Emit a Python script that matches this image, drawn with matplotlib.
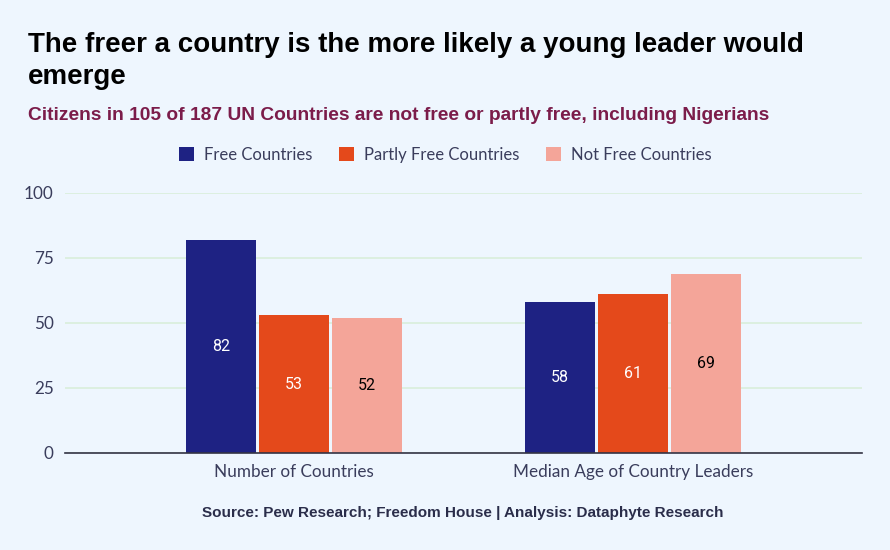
import matplotlib.pyplot as plt
import numpy as np

categories = ["Number of Countries", "Median Age of Country Leaders"]
series_names = ["Free Countries", "Partly Free Countries", "Not Free Countries"]
free = [82, 58]
partly_free = [53, 61]
not_free = [52, 69]

colors = ["#1e2283", "#e4491b", "#f4a599"]
label_colors = ["white", "white", "black"]
bg = "#eef6fe"

fig = plt.figure(figsize=(8.9, 5.5), dpi=100, facecolor=bg)
ax = fig.add_axes([0.073, 0.1764, 0.8955, 0.4727], facecolor=bg)

x = np.arange(len(categories))
width = 0.2065
step = 0.215
for i, (name, vals) in enumerate(zip(series_names, [free, partly_free, not_free])):
    bars = ax.bar(x + (i - 1) * step, vals, width, color=colors[i], label=name, zorder=3)
    for b, v in zip(bars, vals):
        ax.text(b.get_x() + b.get_width() / 2, v / 2, str(v), ha="center", va="center",
                color=label_colors[i], fontsize=11.5, family="Roboto", zorder=4)

ax.set_xlim(-0.675, 1.675)
ax.set_ylim(0, 100)
ax.set_yticks([0, 25, 50, 75, 100])
ax.set_xticks(x)
ax.set_xticklabels(categories)
ax.grid(axis="y", color="#d9eedb", linewidth=1.2, zorder=0)
for s in ["top", "right", "left"]:
    ax.spines[s].set_visible(False)
ax.spines["bottom"].set_color("#333344")
ax.spines["bottom"].set_linewidth(1.2)
ax.spines["bottom"].set_zorder(5)
ax.tick_params(axis="both", length=0, labelsize=12.3, labelcolor="#3a3d5c", pad=8)
for t in ax.get_xticklabels() + ax.get_yticklabels():
    t.set_family("Lato")
ax.tick_params(axis="y", pad=8)

fig.text(28 / 890, 1 - 60.5 / 550, "The freer a country is the more likely a young leader would\nemerge",
         ha="left", va="center", fontsize=20, fontweight="bold", family="Liberation Sans",
         color="black", linespacing=1.3)
fig.text(28 / 890, 1 - 115 / 550, "Citizens in 105 of 187 UN Countries are not free or partly free, including Nigerians",
         ha="left", va="center", fontsize=13.8, fontweight="bold", family="Liberation Sans", color="#7b1c4a")
fig.text(463 / 890, 1 - 513 / 550, "Source: Pew Research; Freedom House | Analysis: Dataphyte Research",
         ha="center", va="center", fontsize=11, fontweight="bold", family="Liberation Sans", color="#2a2d4a")

leg = fig.legend(loc="center", bbox_to_anchor=(445 / 890, 1 - 155 / 550), ncol=3, frameon=False,
                 handlelength=0.9, handleheight=0.9, columnspacing=1.6, handletextpad=0.6,
                 prop={"family": "Lato", "size": 12})
for t in leg.get_texts():
    t.set_color("#3a3d5c")

fig.savefig("out.png", dpi=100, facecolor=bg)
